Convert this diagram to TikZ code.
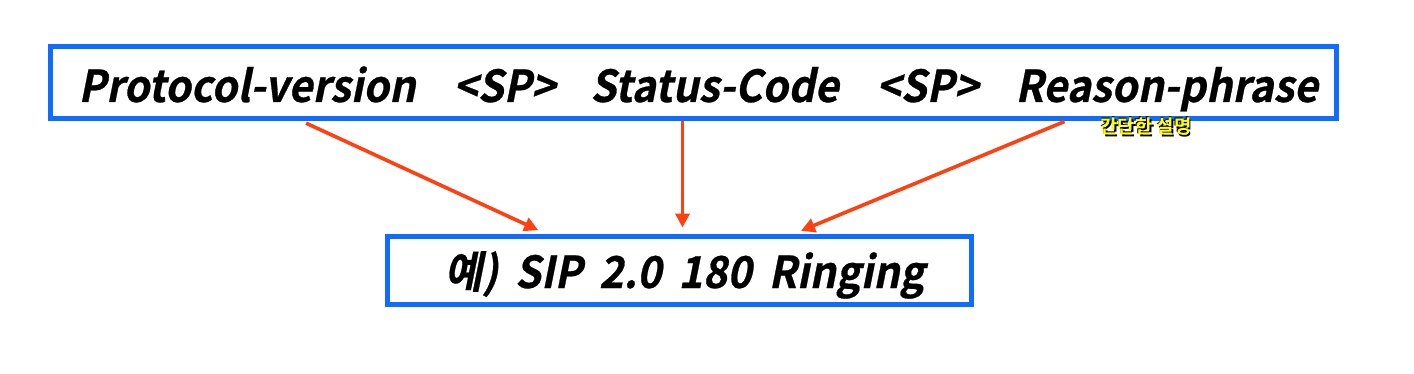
\documentclass[tikz,border=0pt]{standalone}
\usepackage{fontspec}
\usepackage{tikz}
\usetikzlibrary{calc,arrows.meta}
\newfontfamily\krfont[FakeSlant=0.2,FakeBold=0.6,FakeStretch=0.94]{Noto Sans CJK KR Bold}
\newfontfamily\krlabel{Noto Sans CJK KR Bold}
\definecolor{boxblue}{RGB}{16,108,255}
\definecolor{arrred}{RGB}{255,64,16}
\definecolor{lblyel}{RGB}{255,255,0}
\newcommand{\shadowtext}[1]{\makebox[0pt][l]{\raisebox{-0.9pt}{\hspace{0.9pt}\color{black}#1}}\makebox[0pt][l]{\raisebox{0.3pt}{\hspace{-0.3pt}\color{black}#1}}\color{lblyel}#1}

\begin{document}
\begin{tikzpicture}[x=0.5pt,y=-0.5pt,line width=.35pt,
  fmtbox/.style={draw=boxblue,line width=2.5pt,minimum height=36pt,inner sep=0pt},
  word/.style={anchor=base west,inner sep=0pt,font=\krfont\fontsize{22}{26}\selectfont},
  arr/.style={draw=arrred,line width=1.8pt,-{Triangle[length=7pt,width=7pt]}}]
\useasboundingbox (0,0) rectangle (1414,374);
% header line
\node[fmtbox,minimum width=643pt] (hdr) at (693,83) {};
\node[word] (pv) at (78,102) {Protocol-version};
\node[word] (sp1) at (453,102) {<SP>};
\node[word] (sc) at (590,102) {Status-Code};
\node[word] (sp2) at (876,102) {<SP>};
\node[word] (rp) at (1015,102) {Reason-phrase};
\node[font=\krlabel\fontsize{9.4}{11}\selectfont,inner sep=0pt] (note) at (1146,127) {\shadowtext{간단한 설명}};
% example line
\node[fmtbox,minimum width=292pt,minimum height=34pt] (ex) at (679,270) {};
\node[word] (exw) at (444,288) {\spaceskip=8.5pt 예) SIP 2.0 180 Ringing};
% arrows
\draw[arr,shorten <=2pt,shorten >=4pt] ([xshift=127.5pt]hdr.south west) -- ([xshift=80.5pt]ex.north west);
\draw[arr,shorten >=3pt] ([xshift=317.5pt]hdr.south west) -- ([xshift=149pt]ex.north west);
\draw[arr,shorten >=3.5pt] ([xshift=508.5pt]hdr.south west) -- ([xshift=205pt]ex.north west);
\end{tikzpicture}
\end{document}
